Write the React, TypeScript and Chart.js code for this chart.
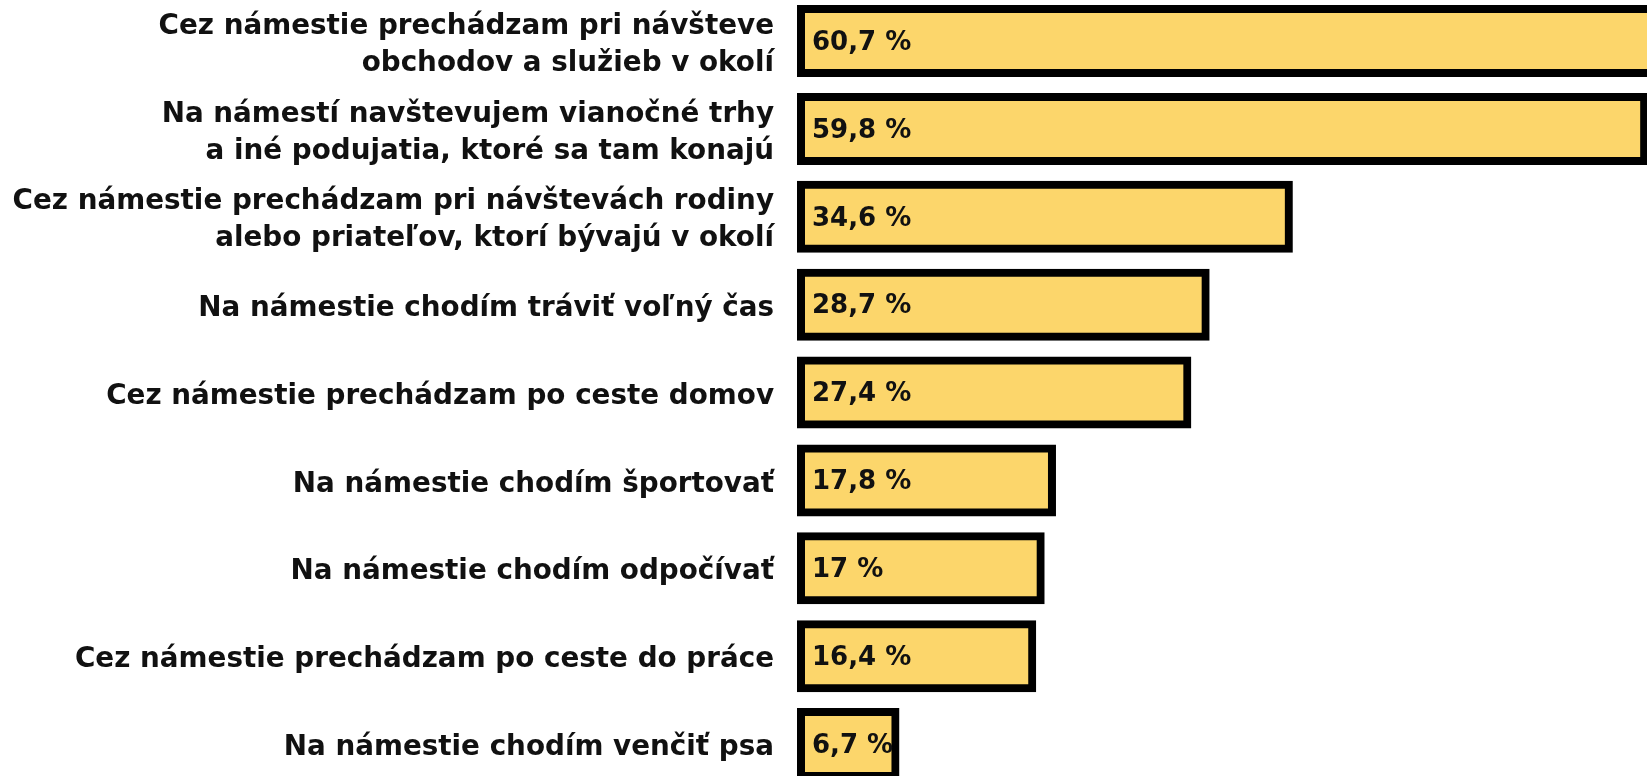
import React, { useEffect, useRef } from 'react';
import { Chart, registerables } from 'chart.js';

Chart.register(...registerables);

const categories: (string | string[])[] = [
  ['Cez námestie prechádzam pri návšteve', 'obchodov a služieb v okolí'],
  ['Na námestí navštevujem vianočné trhy', 'a iné podujatia, ktoré sa tam konajú'],
  ['Cez námestie prechádzam pri návštevách rodiny', 'alebo priateľov, ktorí bývajú v okolí'],
  'Na námestie chodím tráviť voľný čas',
  'Cez námestie prechádzam po ceste domov',
  'Na námestie chodím športovať',
  'Na námestie chodím odpočívať',
  'Cez námestie prechádzam po ceste do práce',
  'Na námestie chodím venčiť psa',
];

const values = [60.7, 59.8, 34.6, 28.7, 27.4, 17.8, 17, 16.4, 6.7];

const formatValue = (v: number) => String(v).replace('.', ',') + ' %';

const FONT = 'DejaVu Sans';

const valueLabelPlugin = {
  id: 'valueLabels',
  afterDatasetsDraw(chart: any) {
    const ctx = chart.ctx;
    const meta = chart.getDatasetMeta(0);
    ctx.save();
    ctx.font = `bold 26px "${FONT}"`;
    ctx.fillStyle = '#111111';
    ctx.textAlign = 'left';
    ctx.textBaseline = 'middle';
    meta.data.forEach((bar: any, i: number) => {
      const { y, base } = bar.getProps(['y', 'base'], true);
      ctx.fillText(formatValue(values[i]), base + 11, y + 2);
    });
    ctx.restore();
  },
};

export default function App() {
  const canvasRef = useRef<HTMLCanvasElement | null>(null);

  useEffect(() => {
    document.body.style.margin = '0';
    const canvas = canvasRef.current;
    if (!canvas) return;
    const chart = new Chart(canvas, {
      type: 'bar',
      data: {
        labels: categories,
        datasets: [
          {
            data: values,
            backgroundColor: '#FCD66B',
            borderColor: '#000000',
            borderWidth: 8,
            borderSkipped: false,
            inflateAmount: 4,
            barThickness: 64,
            clip: false,
          } as any,
        ],
      },
      options: {
        indexAxis: 'y',
        responsive: true,
        maintainAspectRatio: false,
        animation: false,
        layout: { padding: { top: 41, bottom: 32, left: 0, right: 0 } },
        plugins: {
          legend: { display: false },
          tooltip: { enabled: false },
        },
        scales: {
          x: {
            type: 'linear',
            min: 0,
            max: 60,
            display: false,
          },
          y: {
            type: 'category',
            offset: false,
            grid: { display: false, drawTicks: false },
            border: { display: false },
            ticks: {
              autoSkip: false,
              padding: 27,
              labelOffset: 4,
              color: '#111111',
              font: { family: FONT, weight: 'bold', size: 27.8, lineHeight: 1.33 },
            },
            afterFit: (scale: any) => {
              scale.width = 801;
              scale.paddingTop = 0;
              scale.paddingBottom = 0;
            },
          },
        },
      },
      plugins: [valueLabelPlugin],
    });
    return () => chart.destroy();
  }, []);

  return (
    <div style={{ position: 'relative', width: '1647px', height: '776px', overflow: 'hidden' }}>
      <canvas ref={canvasRef} />
    </div>
  );
}
